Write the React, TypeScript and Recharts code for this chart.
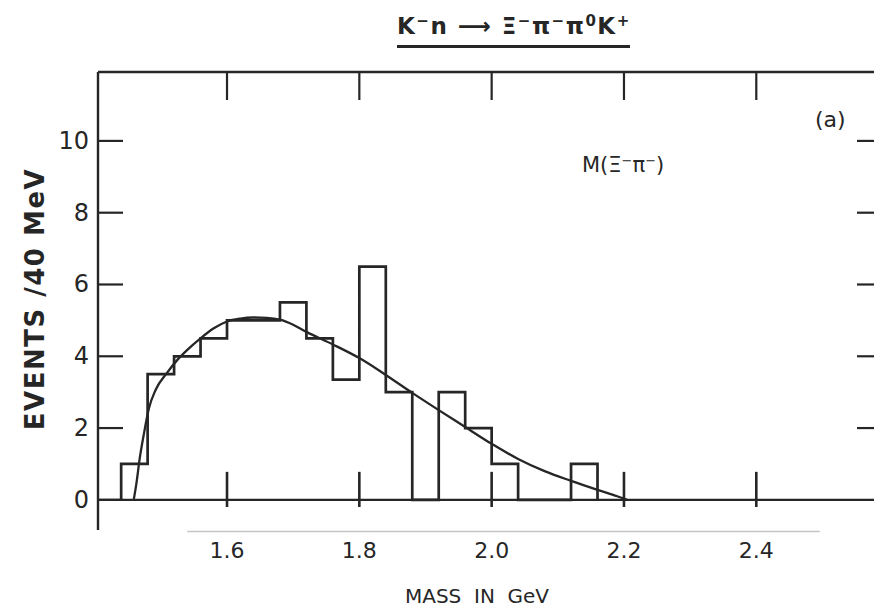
import React from 'react';
import { ComposedChart, Line, XAxis, YAxis, ReferenceLine } from 'recharts';

// Histogram: left edges of 40 MeV bins (GeV) and events per bin
const BIN_LEFT_EDGES = [1.44, 1.48, 1.52, 1.56, 1.6, 1.64, 1.68, 1.72, 1.76, 1.8, 1.84, 1.88, 1.92, 1.96, 2.0, 2.04, 2.08, 2.12];
const BIN_EVENTS = [1, 3.5, 4, 4.5, 5, 5, 5.5, 4.5, 3.35, 6.5, 3, 0, 3, 2, 1, 0, 0, 1];
const BIN_WIDTH = 0.04;

// Smooth fitted curve
const FIT_MASS = [1.459, 1.463, 1.468, 1.474, 1.482, 1.492, 1.509, 1.525, 1.54, 1.56, 1.58, 1.6, 1.62, 1.64, 1.66, 1.68, 1.7, 1.72, 1.76, 1.8, 1.84, 1.88, 1.92, 1.96, 2.0, 2.04, 2.08, 2.12, 2.16, 2.19, 2.205];
const FIT_EVENTS = [0, 0.45, 1.15, 1.8, 2.55, 3.06, 3.53, 3.9, 4.18, 4.5, 4.78, 4.97, 5.05, 5.08, 5.07, 5.02, 4.88, 4.68, 4.33, 3.95, 3.48, 2.98, 2.5, 2.03, 1.56, 1.14, 0.8, 0.53, 0.28, 0.1, 0];

const X_TICKS = [1.6, 1.8, 2.0, 2.2, 2.4];
const X_TICK_LABELS = ['1.6', '1.8', '2.0', '2.2', '2.4'];
const Y_TICKS = [0, 2, 4, 6, 8, 10];
const X_DOMAIN = [1.405, 2.59];
const Y_DOMAIN = [-0.84, 11.92];

const INK = '#262626';
const FONT = '"DejaVu Sans", sans-serif';

const histData = [
  { m: BIN_LEFT_EDGES[0], n: 0 },
  ...BIN_LEFT_EDGES.map((m, i) => ({ m, n: BIN_EVENTS[i] })),
  { m: BIN_LEFT_EDGES[BIN_LEFT_EDGES.length - 1] + BIN_WIDTH, n: 0 },
];
const fitData = FIT_MASS.map((m, i) => ({ m, n: FIT_EVENTS[i] }));

const LeftTick = (props: any) => {
  const { x, y, payload } = props;
  return (
    <g>
      <line x1={x} x2={x + 25} y1={y} y2={y} stroke={INK} strokeWidth={2.2} />
      <text x={x - 9} y={y} textAnchor="end" dominantBaseline="central" fontFamily={FONT} fontSize={24} fill={INK}>
        {payload.value}
      </text>
    </g>
  );
};

const RightTick = (props: any) => {
  const { x, y } = props;
  return <line x1={x - 25} x2={x} y1={y} y2={y} stroke={INK} strokeWidth={2.2} />;
};

const TopTick = (props: any) => {
  const { x, y } = props;
  return <line x1={x} x2={x} y1={y} y2={y + 28} stroke={INK} strokeWidth={2.2} />;
};

const BottomTick = (props: any) => {
  const { x, y, index } = props;
  return (
    <text x={x} y={y + 20} textAnchor="middle" dominantBaseline="central" fontFamily={FONT} fontSize={22} fill={INK}>
      {X_TICK_LABELS[index]}
    </text>
  );
};

const supStyle: React.CSSProperties = { fontSize: 15, lineHeight: 0, verticalAlign: '0.55em' };

export default function App() {
  return (
    <div style={{ position: 'absolute', left: 0, top: 0, width: 874, height: 608, overflow: 'hidden', background: '#fff', fontFamily: FONT, color: INK }}>
      <ComposedChart width={900} height={608} margin={{ top: 0, right: 0, bottom: 0, left: 0 }}>
        <XAxis
          xAxisId="b"
          type="number"
          dataKey="m"
          domain={X_DOMAIN}
          ticks={X_TICKS}
          interval={0}
          allowDataOverflow
          height={78}
          axisLine={false}
          tickLine={false}
          tickSize={0}
          tickMargin={0}
          tick={<BottomTick />}
        />
        <XAxis
          xAxisId="t"
          orientation="top"
          type="number"
          dataKey="m"
          domain={X_DOMAIN}
          ticks={X_TICKS}
          interval={0}
          allowDataOverflow
          height={72}
          axisLine={{ stroke: INK, strokeWidth: 2.4 }}
          tickLine={false}
          tickSize={0}
          tickMargin={0}
          tick={<TopTick />}
        />
        <YAxis
          yAxisId="l"
          type="number"
          domain={Y_DOMAIN}
          ticks={Y_TICKS}
          interval={0}
          allowDataOverflow
          width={98}
          axisLine={{ stroke: INK, strokeWidth: 2.4 }}
          tickLine={false}
          tickSize={0}
          tickMargin={0}
          tick={<LeftTick />}
        />
        <YAxis
          yAxisId="r"
          orientation="right"
          type="number"
          domain={Y_DOMAIN}
          ticks={Y_TICKS.filter((t) => t > 0)}
          interval={0}
          allowDataOverflow
          width={18}
          axisLine={{ stroke: INK, strokeWidth: 2.4 }}
          tickLine={false}
          tickSize={0}
          tickMargin={0}
          tick={<RightTick />}
        />
        <ReferenceLine xAxisId="b" yAxisId="l" y={0} stroke={INK} strokeWidth={2.4} />
        <ReferenceLine
          xAxisId="b"
          yAxisId="l"
          ifOverflow="visible"
          segment={[{ x: 1.54, y: -0.88 }, { x: 2.496, y: -0.88 }]}
          stroke="#c4c4c4"
          strokeWidth={1.5}
        />
        {X_TICKS.map((t) => (
          <ReferenceLine
            key={t}
            xAxisId="b"
            yAxisId="l"
            ifOverflow="visible"
            segment={[{ x: t, y: -0.2 }, { x: t, y: 0.78 }]}
            stroke={INK}
            strokeWidth={2.6}
          />
        ))}
        <Line
          xAxisId="b"
          yAxisId="l"
          data={histData}
          dataKey="n"
          type="stepAfter"
          stroke={INK}
          strokeWidth={2.7}
          dot={false}
          activeDot={false}
          isAnimationActive={false}
        />
        <Line
          xAxisId="b"
          yAxisId="l"
          data={fitData}
          dataKey="n"
          type="monotone"
          stroke={INK}
          strokeWidth={2.3}
          dot={false}
          activeDot={false}
          isAnimationActive={false}
        />
      </ComposedChart>

      <div style={{ position: 'absolute', left: 397, top: 12, width: 233, textAlign: 'center', fontSize: 23, lineHeight: '28px', paddingBottom: 5, borderBottom: `3px solid ${INK}`, whiteSpace: 'nowrap', letterSpacing: 1.5, fontWeight: 'bold' }}>
        K<sup style={supStyle}>−</sup>n ⟶ Ξ<sup style={supStyle}>−</sup>π<sup style={supStyle}>−</sup>π<sup style={supStyle}>0</sup>K<sup style={supStyle}>+</sup>
      </div>
      <div style={{ position: 'absolute', left: 815, top: 106, fontSize: 22, lineHeight: '28px' }}>(a)</div>
      <div style={{ position: 'absolute', left: 582, top: 151, fontSize: 21, lineHeight: '28px', whiteSpace: 'nowrap' }}>
        M(Ξ<sup style={{ ...supStyle, fontSize: 13 }}>−</sup>π<sup style={{ ...supStyle, fontSize: 13 }}>−</sup>)
      </div>
      <div style={{ position: 'absolute', left: 35, top: 299, transform: 'translate(-50%, -50%) rotate(-90deg)', fontSize: 26, fontWeight: 'bold', whiteSpace: 'nowrap', lineHeight: '30px', letterSpacing: 1.5 }}>
        EVENTS /40 MeV
      </div>
      <div style={{ position: 'absolute', left: 477, top: 596, transform: 'translate(-50%, -50%)', fontSize: 20, whiteSpace: 'nowrap', lineHeight: '24px' }}>
        MASS&nbsp;&nbsp;IN&nbsp;&nbsp;GeV
      </div>
    </div>
  );
}
